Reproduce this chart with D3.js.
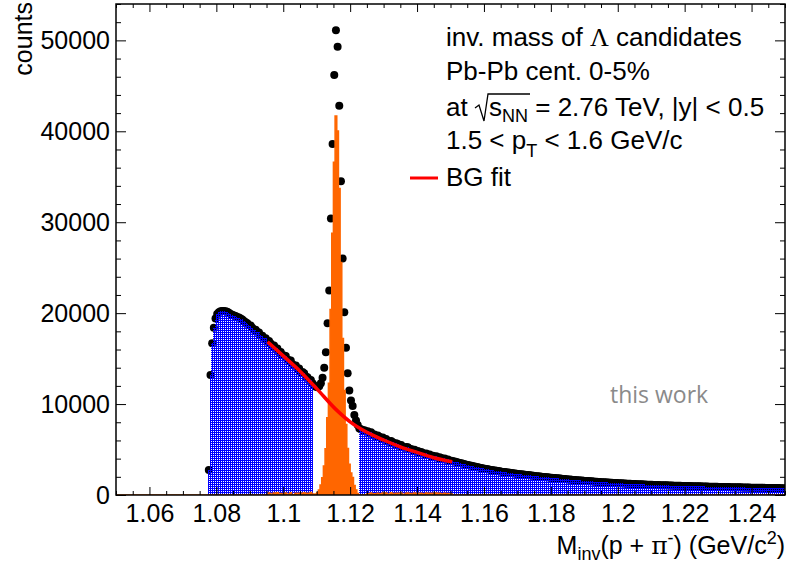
<!DOCTYPE html>
<html>
<head>
<meta charset="utf-8">
<script src="https://cdn.jsdelivr.net/npm/d3@7"></script>
<style>
body { margin: 0; background: #fff; }
svg { display: block; font-family: "Liberation Sans", Arial, sans-serif; }
</style>
</head>
<body>
<script>
//Histogram binning (GeV/c2)
const binWidth = 0.0005;
const firstEdge = 1.0775;

//Counts, left sideband 1.0775 - 1.109
const countsLeft = [
    2750, 13200, 16700, 18400, 19400,
    19900, 20100, 20200, 20250, 20250, 20200, 20150, 20050,
    19900, 19830, 19740, 19680, 19570, 19510, 19410, 19310, 19140, 19010,
    18880, 18660, 18640, 18390, 18160, 18170, 17940, 17880, 17550, 17520,
    17230, 17230, 16860, 16930, 16650, 16360, 16430, 16130, 16120, 15740,
    15720, 15370, 15350, 15280, 14880, 14820, 14780, 14370, 14230, 14230,
    13900, 13900, 13470, 13520, 13390, 13040, 12940, 12640, 12650, 12290
];

//Counts, signal region 1.109 - 1.1225
const countsPeak = [
    12050, 11900, 11850, 11950, 12300, 12900, 14000, 15700, 18900, 22500,
    30400, 38600, 46200, 51100, 49300, 42800, 34500, 26000, 20100, 16200,
    13400, 11500, 10400, 9800, 8800, 8200, 7700
];

//Counts, right sideband 1.1225 - 1.25
const countsRight = [
    7300, 7240, 7120, 7110, 6990,
    7000, 6770, 6900, 6660, 6650, 6430, 6540, 6400, 6230, 6320,
    6090, 6160, 5960, 5820, 5950, 5790, 5620, 5690, 5600, 5400,
    5500, 5290, 5200, 5280, 5250, 5020, 5050, 4920, 4980, 4770,
    4830, 4630, 4730, 4620, 4460, 4570, 4400, 4450, 4260, 4320,
    4190, 4250, 4080, 4140, 4060, 3920, 4020, 3880, 3910, 3780,
    3780, 3720, 3680, 3620, 3580, 3520, 3480, 3430, 3380, 3330,
    3290, 3240, 3210, 3160, 3130, 3080, 3040, 3010, 2960, 2920,
    2890, 2850, 2830, 2790, 2760, 2730, 2690, 2670, 2630, 2600,
    2570, 2540, 2520, 2490, 2470, 2440, 2410, 2390, 2360, 2340,
    2310, 2290, 2270, 2250, 2230, 2200, 2190, 2160, 2140, 2120,
    2090, 2070, 2060, 2030, 2010, 1990, 1980, 1950, 1940, 1910,
    1890, 1880, 1860, 1840, 1830, 1810, 1790, 1770, 1760, 1740,
    1710, 1700, 1680, 1660, 1650, 1630, 1620, 1600, 1590, 1570,
    1550, 1540, 1530, 1510, 1500, 1480, 1470, 1460, 1440, 1430,
    1410, 1400, 1390, 1380, 1370, 1360, 1350, 1330, 1320, 1310,
    1300, 1290, 1280, 1270, 1260, 1250, 1240, 1230, 1220, 1210,
    1200, 1190, 1180, 1180, 1170, 1160, 1150, 1140, 1140, 1130,
    1120, 1110, 1100, 1100, 1090, 1080, 1080, 1070, 1060, 1060,
    1050, 1040, 1040, 1030, 1030, 1020, 1010, 1010, 1000, 1000,
    990, 990, 980, 980, 970, 970, 960, 960, 950, 950,
    940, 940, 930, 930, 920, 920, 910, 910, 900, 900,
    890, 890, 880, 880, 870, 870, 870, 860, 860, 850,
    850, 840, 840, 840, 830, 830, 820, 820, 820, 810,
    810, 810, 800, 800, 800, 790, 790, 790, 780, 780,
    780, 770, 770, 770, 760, 760, 760, 750, 750, 750
];

//Background fit curve
const bgFitX = [1.0953, 1.100, 1.105, 1.110, 1.1155, 1.120, 1.125, 1.130, 1.135, 1.140, 1.145, 1.1505];
const bgFitY = [16850, 15300, 13620, 11700, 9500, 8050, 6900, 6050, 5300, 4680, 4100, 3650];

//Axis ticks
const xTicks = [1.06, 1.08, 1.1, 1.12, 1.14, 1.16, 1.18, 1.2, 1.22, 1.24];
const xTickLabels = ['1.06', '1.08', '1.1', '1.12', '1.14', '1.16', '1.18', '1.2', '1.22', '1.24'];
const yTicks = [0, 10000, 20000, 30000, 40000, 50000];

//Setup chart
const width = 790;
const height = 567;
const margin = {top: 4, right: 5, bottom: 72, left: 116};
const fontSize = 25;

const svg = d3.select('body').append('svg')
    .attr('width', width)
    .attr('height', height);

const x = d3.scaleLinear()
    .domain([1.05, 1.25])
    .range([margin.left, width - margin.right]);

const y = d3.scaleLinear()
    .domain([0, 54000])
    .range([height - margin.bottom, margin.top]);

//Build bins
const bins = [];
[['left', countsLeft], ['peak', countsPeak], ['right', countsRight]].forEach(([region, arr]) => {
    arr.forEach(c => {
        const i = bins.length;
        bins.push({x0: firstEdge + i*binWidth, x1: firstEdge + (i+1)*binWidth, c: c, region: region});
    });
});
bins.forEach(b => b.xc = (b.x0 + b.x1)/2);

//Background as piecewise scale from the fit points, signal = data - BG
const bg = d3.scaleLinear().domain(bgFitX).range(bgFitY);
bins.forEach(b => {
    const inFit = b.xc >= bgFitX[0] && b.xc <= bgFitX[bgFitX.length-1];
    b.sig = inFit ? Math.max(0, b.c - bg(b.xc)) : 0;
});

//Defs: clip and ROOT-like dotted fill pattern
const defs = svg.append('defs');
defs.append('clipPath').attr('id', 'frameClip')
    .append('rect')
    .attr('x', x(1.05)).attr('y', y(54000))
    .attr('width', x(1.25)-x(1.05)).attr('height', y(0)-y(54000));

const pat = defs.append('pattern')
    .attr('id', 'checker')
    .attr('width', 2).attr('height', 2)
    .attr('patternUnits', 'userSpaceOnUse');
pat.append('rect').attr('x', 0).attr('y', 0).attr('width', 2).attr('height', 1).attr('fill', '#0000ff');
pat.append('rect').attr('x', 0).attr('y', 1).attr('width', 1).attr('height', 1).attr('fill', '#0000ff');

const plot = svg.append('g').attr('clip-path', 'url(#frameClip)');

//Step helpers
const stepPoints = (list, val) => {
    const pts = [];
    list.forEach(b => { pts.push([b.x0, val(b)]); pts.push([b.x1, val(b)]); });
    return pts;
};
const area = d3.area()
    .x(d => x(d[0]))
    .y0(y(0))
    .y1(d => y(d[1]));

//Data points
plot.selectAll('circle.dot')
    .data(bins.filter(b => b.c > 0))
    .enter()
    .append('circle')
    .attr('class', 'dot')
    .attr('cx', d => x(d.xc))
    .attr('cy', d => y(d.c))
    .attr('r', 4)
    .style('fill', '#000');

//Blue sideband histograms
['left', 'right'].forEach(region => {
    const list = bins.filter(b => b.region == region);
    const pts = [[list[0].x0, 0]].concat(stepPoints(list, b => b.c), [[list[list.length-1].x1, 0]]);
    plot.append('path')
        .attr('d', area(pts))
        .style('fill', 'url(#checker)')
        .attr('shape-rendering', 'crispEdges');
});

//Orange signal histogram
const sigPts = [[1.05, 0], [firstEdge, 0]].concat(stepPoints(bins, b => b.sig), [[1.25, 0]]);
plot.append('path')
    .attr('d', area(sigPts))
    .style('fill', '#ff6600')
    .style('stroke', '#ff6600')
    .style('stroke-width', 1.5);

//BG fit
const fitLine = d3.line()
    .x((d, i) => x(bgFitX[i]))
    .y(d => y(d))
    .curve(d3.curveMonotoneX);
plot.append('path')
    .attr('d', fitLine(bgFitY))
    .style('fill', 'none')
    .style('stroke', '#ff0000')
    .style('stroke-width', 3.5);

//Axes
const minorX = d3.range(1.05, 1.2501, 0.005).filter(v => !xTicks.some(t => Math.abs(t-v) < 1e-6));
const minorY = d3.range(0, 54001, 2000).filter(v => v % 10000 != 0);

const styleAxis = g => {
    g.select('.domain').remove();
    g.selectAll('.tick line').style('stroke', '#000').style('stroke-width', 1);
    g.selectAll('.tick text')
        .style('font-family', '"Liberation Sans", Arial, sans-serif')
        .style('font-size', fontSize + 'px')
        .style('fill', '#000');
};

const xAxis = d3.axisBottom(x).tickValues(xTicks).tickSize(-8).tickPadding(9)
    .tickFormat((d, i) => xTickLabels[i]);
svg.append('g').attr('transform', `translate(0,${y(0)})`).call(xAxis).call(styleAxis);
svg.append('g').attr('transform', `translate(0,${y(0)})`)
    .call(d3.axisBottom(x).tickValues(minorX).tickSize(-4).tickFormat('')).call(styleAxis);
svg.append('g').attr('transform', `translate(0,${y(54000)})`)
    .call(d3.axisTop(x).tickValues(xTicks).tickSize(-8).tickFormat('')).call(styleAxis);
svg.append('g').attr('transform', `translate(0,${y(54000)})`)
    .call(d3.axisTop(x).tickValues(minorX).tickSize(-4).tickFormat('')).call(styleAxis);

const yAxis = d3.axisLeft(y).tickValues(yTicks).tickSize(-10).tickPadding(6).tickFormat(d3.format('d'));
svg.append('g').attr('transform', `translate(${x(1.05)},0)`).call(yAxis).call(styleAxis);
svg.append('g').attr('transform', `translate(${x(1.05)},0)`)
    .call(d3.axisLeft(y).tickValues(minorY).tickSize(-5).tickFormat('')).call(styleAxis);
svg.append('g').attr('transform', `translate(${x(1.25)},0)`)
    .call(d3.axisRight(y).tickValues(yTicks).tickSize(-10).tickFormat('')).call(styleAxis);
svg.append('g').attr('transform', `translate(${x(1.25)},0)`)
    .call(d3.axisRight(y).tickValues(minorY).tickSize(-5).tickFormat('')).call(styleAxis);

//Frame
svg.append('rect')
    .attr('x', x(1.05)).attr('y', y(54000))
    .attr('width', x(1.25)-x(1.05)).attr('height', y(0)-y(54000))
    .style('fill', 'none')
    .style('stroke', '#000')
    .style('stroke-width', 1.5);

//Axis titles
const xTitle = svg.append('text')
    .attr('x', x(1.25))
    .attr('y', 554)
    .style('text-anchor', 'end')
    .style('font-size', fontSize + 'px');
xTitle.append('tspan').text('M');
xTitle.append('tspan').attr('dy', 6).style('font-size', '18px').text('inv');
xTitle.append('tspan').attr('dy', -6).text('(p + ');
xTitle.append('tspan').style('font-family', '"DejaVu Serif", serif').text('\u03c0');
xTitle.append('tspan').attr('dy', -10).style('font-size', '18px').text('-');
xTitle.append('tspan').attr('dy', 10).text(') (GeV/c');
xTitle.append('tspan').attr('dy', -10).style('font-size', '18px').text('2');
xTitle.append('tspan').attr('dy', 10).text(')');

svg.append('text')
    .attr('transform', 'translate(32,2) rotate(-90)')
    .style('text-anchor', 'end')
    .style('font-size', fontSize + 'px')
    .text('counts');

//Legend
const legendSize = 26;
const lx = 446;
const leg = svg.append('g').style('font-size', legendSize + 'px');

const l1 = leg.append('text').attr('x', lx).attr('y', 46);
l1.append('tspan').text('inv. mass of ');
l1.append('tspan').style('font-family', '"Liberation Serif", serif').text('\u039b');
l1.append('tspan').text(' candidates');

leg.append('text').attr('x', lx).attr('y', 80).text('Pb-Pb cent. 0-5%');

leg.append('text').attr('x', lx).attr('y', 116).text('at');
leg.append('path')
    .attr('d', 'M475,108 L479,105 L484,121 L488,94 L530,94')
    .style('fill', 'none')
    .style('stroke', '#000')
    .style('stroke-width', 1.3);
const l3 = leg.append('text').attr('x', 489).attr('y', 116);
l3.append('tspan').text('s');
l3.append('tspan').attr('dy', 6).style('font-size', '18px').text('NN');
l3.append('tspan').attr('dy', -6).text(' = 2.76 TeV, |y| < 0.5');

const l4 = leg.append('text').attr('x', lx).attr('y', 149);
l4.append('tspan').text('1.5 < p');
l4.append('tspan').attr('dy', 8).style('font-size', '18px').text('T');
l4.append('tspan').attr('dy', -8).text(' < 1.6 GeV/c');

leg.append('line')
    .attr('x1', 410).attr('x2', 438)
    .attr('y1', 178).attr('y2', 178)
    .style('stroke', '#ff0000')
    .style('stroke-width', 3);
leg.append('text').attr('x', lx).attr('y', 186).text('BG fit');

//Watermark
svg.append('text')
    .attr('x', 610)
    .attr('y', 403)
    .style('font-family', '"Open Sans", sans-serif')
    .style('font-size', '23px')
    .style('fill', '#8a8a8a')
    .text('this work');
</script>
</body>
</html>
